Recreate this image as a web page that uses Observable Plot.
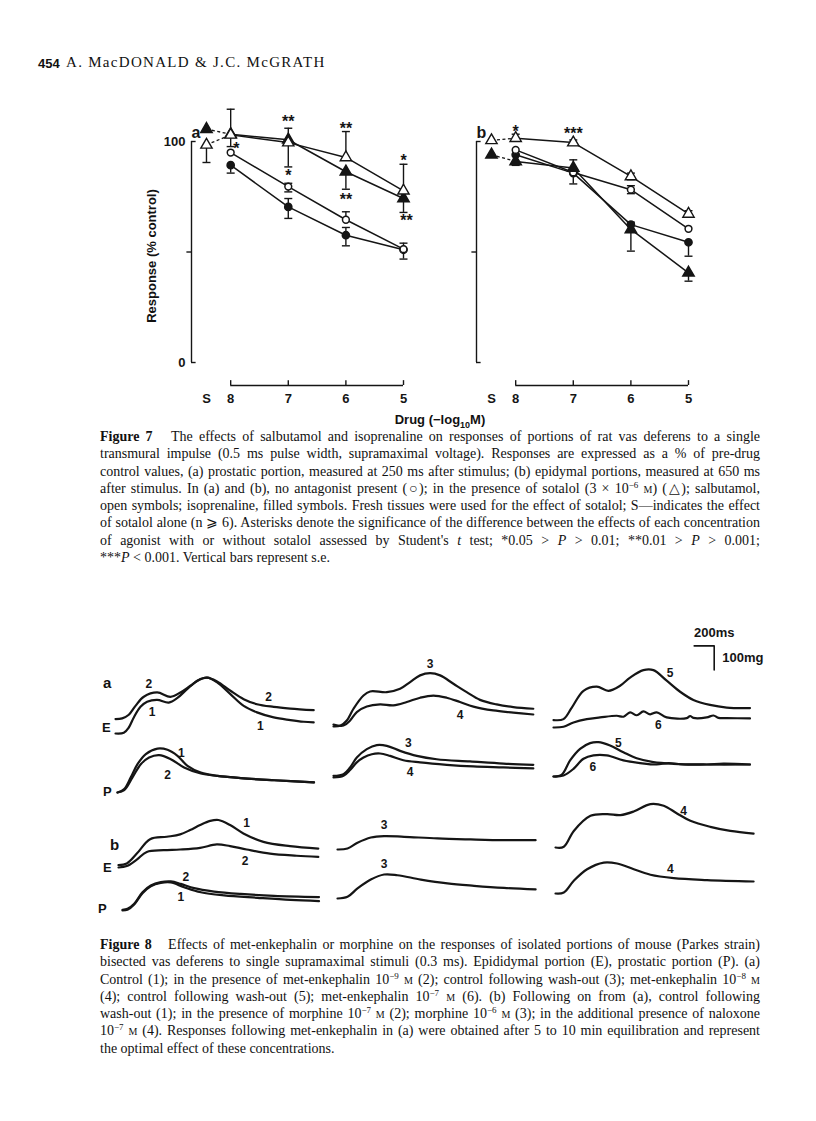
<!DOCTYPE html>
<html><head><meta charset="utf-8">
<script src="https://cdn.jsdelivr.net/npm/d3@7"></script>
<script src="https://cdn.jsdelivr.net/npm/@observablehq/plot@0.6"></script>
<style>
body{margin:0;background:#fff;}
#page{position:relative;width:816px;height:1121px;overflow:hidden;font-family:"Liberation Serif",serif;color:#111;}
.abs{position:absolute;white-space:nowrap;}
.sans{font-family:"Liberation Sans",Arial,sans-serif;font-weight:bold;}
.cap{position:absolute;left:100px;width:660px;font-size:14px;line-height:17.3px;}
.cap div{text-align:justify;text-align-last:justify;white-space:nowrap;overflow:visible;height:17.3px;}
.cap div.last{text-align-last:left;}
.cap sup{font-size:9px;vertical-align:0;position:relative;top:-5px;line-height:0;}
.sc{font-variant:small-caps;}
.cell{position:absolute;}
</style></head>
<body><div id="page">
<div class="abs sans" style="left:38px;top:56px;font-size:13px;">454</div>
<div class="abs" style="left:66px;top:54px;font-size:15px;letter-spacing:1.3px;">A. MacDONALD &amp; J.C. McGRATH</div>
<div id="fig7a" class="cell" style="left:111px;top:81px;"></div>
<div id="fig7b" class="cell" style="left:396px;top:81px;"></div>
<div class="abs sans" style="left:151px;top:256px;font-size:13px;transform:translate(-50%,-50%) rotate(-90deg);">Response (% control)</div>
<div class="abs sans" style="left:440px;top:421px;font-size:13px;transform:translate(-50%,-50%);">Drug (−log<sub style="font-size:9px;">10</sub>M)</div>
<div class="cap" style="top:428px;">
<div><b>Figure 7</b>&nbsp;&nbsp; The effects of salbutamol and isoprenaline on responses of portions of rat vas deferens to a single</div>
<div>transmural impulse (0.5 ms pulse width, supramaximal voltage). Responses are expressed as a % of pre-drug</div>
<div>control values, (a) prostatic portion, measured at 250 ms after stimulus; (b) epidymal portions, measured at 650 ms</div>
<div>after stimulus. In (a) and (b), no antagonist present (○); in the presence of sotalol (3 × 10<sup>−6</sup> <span class="sc">m</span>) (△); salbutamol,</div>
<div>open symbols; isoprenaline, filled symbols. Fresh tissues were used for the effect of sotalol; S—indicates the effect</div>
<div>of sotalol alone (n ⩾ 6). Asterisks denote the significance of the difference between the effects of each concentration</div>
<div>of agonist with or without sotalol assessed by Student's <i>t</i> test; *0.05 &gt; <i>P</i> &gt; 0.01; **0.01 &gt; <i>P</i> &gt; 0.001;</div>
<div class="last">***<i>P</i> &lt; 0.001. Vertical bars represent s.e.</div>
</div>
<div id="fig8"></div>
<div class="abs sans" style="left:103px;top:674px;font-size:15px;">a</div>
<div class="abs sans" style="left:102px;top:720px;font-size:13px;">E</div>
<div class="abs sans" style="left:103px;top:784px;font-size:13px;">P</div>
<div class="abs sans" style="left:110px;top:836px;font-size:15px;">b</div>
<div class="abs sans" style="left:103px;top:860px;font-size:13px;">E</div>
<div class="abs sans" style="left:98px;top:901px;font-size:13px;">P</div>
<div class="cap" style="top:936px;">
<div><b>Figure 8</b>&nbsp;&nbsp; Effects of met-enkephalin or morphine on the responses of isolated portions of mouse (Parkes strain)</div>
<div>bisected vas deferens to single supramaximal stimuli (0.3 ms). Epididymal portion (E), prostatic portion (P). (a)</div>
<div>Control (1); in the presence of met-enkephalin 10<sup>−9</sup> <span class="sc">m</span> (2); control following wash-out (3); met-enkephalin 10<sup>−8</sup> <span class="sc">m</span></div>
<div>(4); control following wash-out (5); met-enkephalin 10<sup>−7</sup> <span class="sc">m</span> (6). (b) Following on from (a), control following</div>
<div>wash-out (1); in the presence of morphine 10<sup>−7</sup> <span class="sc">m</span> (2); morphine 10<sup>−6</sup> <span class="sc">m</span> (3); in the additional presence of naloxone</div>
<div>10<sup>−7</sup> <span class="sc">m</span> (4). Responses following met-enkephalin in (a) were obtained after 5 to 10 min equilibration and represent</div>
<div class="last">the optimal effect of these concentrations.</div>
</div>
</div>
<script>
// ================= Figure 7 data =================
const conc = [8, 7, 6, 5];                 // -log10 M
const sLabel = "S";                        // sotalol alone
const seriesNames = ["salbutamol", "isoprenaline", "salbutamol + sotalol", "isoprenaline + sotalol"];
// panel a: prostatic portion (250 ms)
const aSalb      = [95.0, 79.6, 64.6, 51.3];
const aSalbHi    = [null, 81.1, 68.2, 54.0];
const aSalbLo    = [null, 77.2, null, null];
const aIso       = [89.3, 70.4, 57.6, 51.0];
const aIsoHi     = [null, 74.2, 61.1, null];
const aIsoLo     = [85.7, 65.2, 52.8, 46.8];
const aSalbSot   = [103.0, 99.5, 92.8, 77.7];
const aSalbSotHi = [114.6, null, 104.5, 89.7];
const aSalbSotLo = [97.7, 88.5, null, null];
const aIsoSot    = [103.3, 100.8, 86.3, 74.2];
const aIsoSotHi  = [null, 106.0, null, null];
const aIsoSotLo  = [null, null, 78.4, 67.9];
const aSotAlone   = [98.5, 105.6];   // open (salb. group), filled (iso. group)
const aSotAloneLo = [90.5, null];
const aStarConc = [7.9, 7, 7, 6, 6, 5, 4.95];
const aStarY    = [98.5, 110.5, 86.4, 107.6, 75.6, 93.2, 65.7];
const aStarText = ["*", "**", "*", "**", "**", "*", "**"];
// panel b: epididymal portion (650 ms)
const bSalb      = [96.2, 86.0, 78.2, 60.5];
const bSalbHi    = [null, null, 80.0, null];
const bSalbLo    = [null, null, 76.4, null];
const bIso       = [94.0, 85.7, 62.4, 54.4];
const bIsoHi     = [null, null, 63.5, null];
const bIsoLo     = [null, 80.8, null, 48.1];
const bSalbSot   = [101.5, 99.5, 84.2, 67.2];
const bSalbSotHi = [103.3, 100.7, 85.7, 68.7];
const bSalbSotLo = [null, 98.3, 82.7, null];
const bIsoSot    = [91.0, 88.0, 60.2, 40.6];
const bIsoSotHi  = [null, 91.7, null, null];
const bIsoSotLo  = [89.2, null, 50.4, 36.8];
const bSotAlone   = [100.5, 94.0];
const bSotAloneLo = [null, null];
const bStarConc = [8, 7];
const bStarY    = [106.3, 105.2];
const bStarText = ["*", "***"];
const yTickLabels = [0, 100];
const yTickAll = [0, 50, 100];

// layout constants
const ink = "#151515";
const xLeft = 8.68, sPos = 8.42, yBottom = -10.4;
const capSym = {draw(ctx, size) { const w = Math.sqrt(size / Math.PI); ctx.moveTo(-w, 0); ctx.lineTo(w, 0); }};

function panel(def) {
  const series = [
    {name: seriesNames[0], vals: def.salb, hi: def.salbHi, lo: def.salbLo, open: true, tri: false},
    {name: seriesNames[1], vals: def.iso, hi: def.isoHi, lo: def.isoLo, open: false, tri: false},
    {name: seriesNames[2], vals: def.salbSot, hi: def.salbSotHi, lo: def.salbSotLo, open: true, tri: true},
    {name: seriesNames[3], vals: def.isoSot, hi: def.isoSotHi, lo: def.isoSotLo, open: false, tri: true}
  ];
  const pts = [], bars = [];
  series.forEach(s => conc.forEach((c, i) => {
    pts.push({series: s.name, x: c, y: s.vals[i], open: s.open, tri: s.tri});
    if (s.hi[i] != null) bars.push({x: c, y1: s.vals[i], y2: s.hi[i]});
    if (s.lo[i] != null) bars.push({x: c, y1: s.vals[i], y2: s.lo[i]});
  }));
  const sPts = def.sot.map((v, i) => ({x: sPos, y: v, open: i === 0, tri: true, x2: conc[0], y2: series[2 + i].vals[0]}));
  def.sotLo.forEach((v, i) => { if (v != null) bars.push({x: sPos, y1: def.sot[i], y2: v}); });
  const all = pts.concat(sPts);
  const stars = def.starX.map((x, i) => ({x, y: def.starY[i], t: def.starT[i]}));
  const sym = (open, tri) => all.filter(d => d.open === open && d.tri === tri);
  const marks = [
    Plot.ruleX([xLeft], {y1: 0, y2: 100, stroke: ink, strokeWidth: 1.4}),
    Plot.ruleY(yTickAll.filter(d => d !== 50), {x1: xLeft, x2: xLeft - 0.08, stroke: ink, strokeWidth: 1.4}),
    Plot.ruleY(yTickAll.filter(d => d === 50), {x1: xLeft, x2: xLeft + 0.08, stroke: ink, strokeWidth: 1.4}),
    Plot.ruleY([yBottom], {x1: d3.max(conc), x2: d3.min(conc), stroke: ink, strokeWidth: 1.4}),
    Plot.ruleX(conc, {y1: yBottom, y2: yBottom + 2.2, stroke: ink, strokeWidth: 1.4}),
    Plot.axisX({ticks: [sPos, ...conc], tickSize: 0, tickPadding: 8, tickFormat: d => d === sPos ? sLabel : String(d), label: null, fill: ink}),
    Plot.link(sPts, {x1: "x", y1: "y", x2: "x2", y2: "y2", stroke: ink, strokeWidth: 1.3, strokeDasharray: "3,2.5"}),
    Plot.line(pts, {x: "x", y: "y", z: "series", stroke: ink, strokeWidth: 1.5}),
    Plot.ruleX(bars, {x: "x", y1: "y1", y2: "y2", stroke: ink, strokeWidth: 1.4}),
    Plot.dot(bars, {x: "x", y: "y2", symbol: capSym, r: 4, stroke: ink, strokeWidth: 1.4}),
    Plot.dot(sym(false, false), {x: "x", y: "y", r: 3.6, fill: ink, stroke: ink}),
    Plot.dot(sym(true, false), {x: "x", y: "y", r: 3.4, fill: "white", stroke: ink, strokeWidth: 1.5}),
    Plot.dot(sym(false, true), {x: "x", y: "y", symbol: "triangle", r: 4.2, fill: ink, stroke: ink}),
    Plot.dot(sym(true, true), {x: "x", y: "y", symbol: "triangle", r: 4.2, fill: "white", stroke: ink, strokeWidth: 1.4}),
    Plot.text(stars, {x: "x", y: "y", text: "t", fontSize: 16, fontWeight: "bold", dy: 4, fill: ink}),
    Plot.text([def.label], {frameAnchor: "top-left", dx: 0, dy: -15, fontSize: 16, fontWeight: "bold", fill: ink})
  ];
  if (def.showY) marks.push(Plot.axisY({ticks: yTickLabels, tickSize: 0, tickPadding: 6, label: null, fill: ink}));
  return Plot.plot({
    width: 330, height: 340, marginLeft: 80, marginRight: 38, marginTop: 60, marginBottom: 36,
    x: {domain: [xLeft, 5], axis: null},
    y: {domain: [yBottom, 100], axis: null},
    style: {background: "transparent", overflow: "visible", fontFamily: "Liberation Sans, Arial, sans-serif", fontSize: "13px", fontWeight: "bold", color: ink},
    marks
  });
}

document.getElementById("fig7a").append(panel({
  label: "a", showY: true,
  salb: aSalb, salbHi: aSalbHi, salbLo: aSalbLo, iso: aIso, isoHi: aIsoHi, isoLo: aIsoLo,
  salbSot: aSalbSot, salbSotHi: aSalbSotHi, salbSotLo: aSalbSotLo, isoSot: aIsoSot, isoSotHi: aIsoSotHi, isoSotLo: aIsoSotLo,
  sot: aSotAlone, sotLo: aSotAloneLo, starX: aStarConc, starY: aStarY, starT: aStarText
}));
document.getElementById("fig7b").append(panel({
  label: "b", showY: false,
  salb: bSalb, salbHi: bSalbHi, salbLo: bSalbLo, iso: bIso, isoHi: bIsoHi, isoLo: bIsoLo,
  salbSot: bSalbSot, salbSotHi: bSalbSotHi, salbSotLo: bSalbSotLo, isoSot: bIsoSot, isoSotHi: bIsoSotHi, isoSotLo: bIsoSotLo,
  sot: bSotAlone, sotLo: bSotAloneLo, starX: bStarConc, starY: bStarY, starT: bStarText
}));

// ================= Figure 8 data (time ms, tension mg) =================
// column 1 (traces 1, 2)
const aE1_1 = [[0,0],[83,3],[133,25],[183,67],[250,111],[316,132],[416,140],[533,129],[616,147],[716,185],[816,219],[916,233],[1016,213],[1149,164],[1282,115],[1415,88],[1582,67],[1749,56],[1882,49],[1982,46]];
const aE1_2 = [[0,60],[67,63],[133,78],[200,115],[283,153],[416,171],[549,153],[649,171],[749,199],[849,227],[916,233],[1016,217],[1149,178],[1282,143],[1415,122],[1582,111],[1749,104],[1982,97]];
const aP1_1 = [[0,0],[67,14],[133,63],[200,118],[283,160],[400,183],[500,178],[600,153],[700,111],[833,83],[1000,69],[1233,60],[1566,51],[1965,42]];
const aP1_2 = [[0,0],[67,10],[150,63],[233,118],[316,146],[416,156],[533,139],[666,104],[833,79],[1000,69],[1233,60],[1566,51],[1965,42]];
const bE1_1 = [[0,10],[83,17],[183,58],[316,118],[483,128],[616,138],[716,156],[816,177],[916,194],[999,198],[1116,177],[1249,142],[1449,107],[1715,89],[1998,79]];
const bE1_2 = [[0,0],[83,6],[183,33],[283,65],[450,72],[616,75],[816,82],[983,96],[1116,89],[1282,75],[1515,58],[1782,49],[1998,44]];
const bP1_1 = [[0,0],[50,3],[117,25],[200,72],[283,101],[383,115],[483,117],[616,97],[783,76],[1016,63],[1349,53],[1682,44],[1965,39]];
const bP1_2 = [[0,3],[50,7],[117,28],[200,76],[283,104],[383,118],[483,121],[583,111],[716,93],[916,79],[1182,69],[1515,61],[1965,56]];
// column 2 (traces 3, 4)
const aE2_3 = [[0,0],[67,3],[133,25],[200,74],[300,129],[366,146],[533,143],[666,157],[766,185],[866,213],[966,222],[1066,213],[1199,178],[1332,143],[1465,111],[1632,92],[1798,81],[1998,74]];
const aE2_4 = [[0,8],[100,4],[166,25],[233,60],[333,83],[466,92],[599,88],[733,102],[866,120],[999,129],[1132,120],[1265,102],[1399,83],[1598,67],[1798,58],[1998,50]];
const aP2_3 = [[0,7],[100,14],[166,42],[233,83],[333,118],[433,135],[533,132],[666,111],[833,90],[1032,76],[1365,67],[1698,58],[1998,53]];
const aP2_4 = [[0,0],[100,7],[166,31],[233,63],[300,83],[383,97],[466,100],[566,90],[699,72],[866,63],[1132,53],[1399,46],[1698,42],[1998,38]];
const bE2_3 = [[0,0],[100,4],[200,28],[333,50],[466,56],[666,53],[999,46],[1332,42],[1665,39],[1981,39]];
const bP2_3 = [[0,0],[100,7],[200,42],[333,79],[466,100],[599,97],[833,79],[1099,63],[1365,53],[1665,44],[1981,38]];
// column 3 (traces 5, 6 and 4)
const aE3_5 = [[0,31],[100,35],[183,83],[300,153],[433,170],[549,153],[666,174],[766,208],[899,239],[999,239],[1132,195],[1266,149],[1399,115],[1565,94],[1732,83],[1965,81]];
const aE3_6 = [[0,0],[100,3],[200,21],[333,35],[466,42],[633,49],[700,45],[766,63],[833,51],[899,67],[966,55],[1032,63],[1132,42],[1332,39],[1366,48],[1399,40],[1532,42],[1600,50],[1650,40],[1732,39],[1965,38]];
const aP3_5 = [[0,0],[83,8],[166,67],[266,115],[366,139],[449,143],[566,129],[699,101],[832,76],[999,60],[1199,53],[1532,50],[1965,50]];
const aP3_6 = [[0,0],[100,4],[200,32],[300,74],[400,88],[533,88],[699,67],[866,56],[1032,50],[1150,56],[1299,50],[1532,50],[1700,54],[1965,50]];
const bE3_4 = [[0,0],[83,3],[183,69],[350,132],[516,139],[649,135],[782,150],[949,181],[1082,174],[1215,142],[1349,111],[1548,86],[1748,69],[1981,58]];
const bP3_4 = [[0,0],[83,4],[183,53],[316,101],[483,129],[616,125],[783,101],[949,78],[1182,64],[1515,56],[1981,50]];
// trace number labels [ms, mg, text]
const lab_aE1 = [[333,206,"2"],[366,88,"1"],[1532,153,"2"],[1449,32,"1"]];
const lab_aP1 = [[639,163,"1"],[500,74,"2"]];
const lab_bE1 = [[1282,183,"1"],[1265,28,"2"]];
const lab_bP1 = [[633,139,"2"],[583,56,"1"]];
const lab_aE2 = [[966,261,"3"],[1265,49,"4"]];
const lab_aP2 = [[749,142,"3"],[766,21,"4"]];
const lab_bE2 = [[466,101,"3"]];
const lab_bP2 = [[466,142,"3"]];
const lab_aE3 = [[1166,225,"5"],[1049,11,"6"]];
const lab_aP3 = [[649,139,"5"],[393,39,"6"]];
const lab_bE3 = [[1282,150,"4"]];
const lab_bP3 = [[1149,101,"4"]];
// calibration
const calMs = 200, calMg = 100;
const calOrigin = [1407, 340]; // ms, mg where bar starts

// page position of each recording (x of t=0, y of 0 mg)
const cells = [
  {traces: [aE1_1, aE1_2], labels: lab_aE1, x0: 115, base: 732.7},
  {traces: [aP1_1, aP1_2], labels: lab_aP1, x0: 116.7, base: 791.7},
  {traces: [bE1_1, bE1_2], labels: lab_bE1, x0: 118.3, base: 867.3},
  {traces: [bP1_1, bP1_2], labels: lab_bP1, x0: 121.7, base: 910},
  {traces: [aE2_3, aE2_4], labels: lab_aE2, x0: 333.3, base: 726},
  {traces: [aP2_3, aP2_4], labels: lab_aP2, x0: 333.3, base: 776.7},
  {traces: [bE2_3], labels: lab_bE2, x0: 336.7, base: 849.3},
  {traces: [bP2_3], labels: lab_bP2, x0: 336.7, base: 898.3},
  {traces: [aE3_5, aE3_6], labels: lab_aE3, x0: 553.3, base: 726.7, cal: true},
  {traces: [aP3_5, aP3_6], labels: lab_aP3, x0: 553.3, base: 776},
  {traces: [bE3_4], labels: lab_bE3, x0: 555, base: 846.7},
  {traces: [bP3_4], labels: lab_bP3, x0: 555, base: 892.7}
];
const fig8 = document.getElementById("fig8");
cells.forEach(c => {
  const rows = [];
  c.traces.forEach((tr, k) => tr.forEach(([t, mg]) => rows.push({k, t, mg})));
  const labs = c.labels.map(([t, mg, s]) => ({t, mg, s}));
  const marks = [
    Plot.line(rows, {x: "t", y: "mg", z: "k", curve: "catmull-rom", stroke: ink, strokeWidth: 2.2, strokeLinejoin: "round"}),
    Plot.text(labs, {x: "t", y: "mg", text: "s", fontSize: 12, fontWeight: "bold", fill: ink})
  ];
  if (c.cal) {
    const [t0, m0] = calOrigin;
    marks.push(Plot.line([{t: t0, mg: m0}, {t: t0 + calMs, mg: m0}, {t: t0 + calMs, mg: m0 - calMg}], {x: "t", y: "mg", stroke: ink, strokeWidth: 1.6}));
    marks.push(Plot.text([calMs + "ms"], {x: t0 + calMs, y: m0, dy: -13, fontSize: 13, fontWeight: "bold", fill: ink}));
    marks.push(Plot.text([calMg + "mg"], {x: t0 + calMs, y: m0 - calMg / 2, dx: 8, textAnchor: "start", fontSize: 13, fontWeight: "bold", fill: ink}));
  }
  const svg = Plot.plot({
    width: 230, height: 100, marginLeft: 20, marginRight: 10, marginTop: 25, marginBottom: 15,
    x: {domain: [0, 2000], axis: null}, y: {domain: [0, 250], axis: null},
    style: {background: "transparent", overflow: "visible", fontFamily: "Liberation Sans, Arial, sans-serif"},
    marks
  });
  const div = document.createElement("div");
  div.className = "cell";
  div.style.left = (c.x0 - 20) + "px";
  div.style.top = (c.base - 85) + "px";
  div.style.width = "230px";
  div.append(svg);
  fig8.append(div);
});
</script>
</body></html>
